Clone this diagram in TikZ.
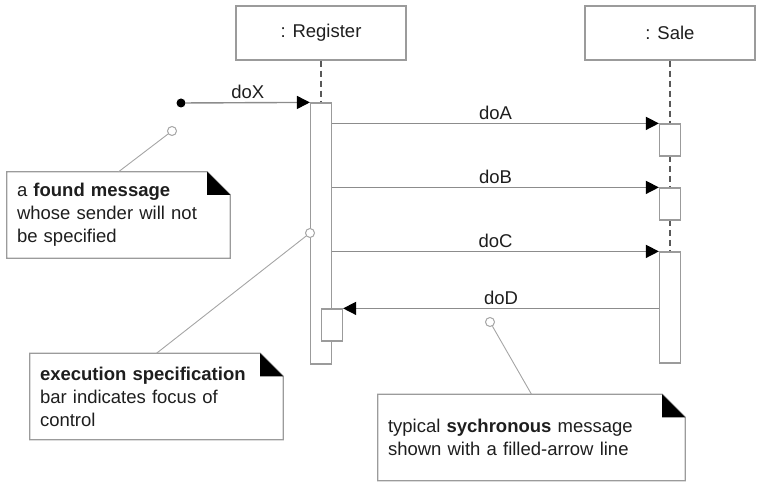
\documentclass[tikz,border=0pt]{standalone}
\usepackage{fontspec}
\setmainfont{Liberation Sans}
\usetikzlibrary{arrows.meta}
\definecolor{linegray}{RGB}{140,140,140}
\definecolor{boxgray}{RGB}{155,155,155}
\definecolor{pingray}{RGB}{165,165,165}
\definecolor{textgray}{RGB}{30,30,30}

\begin{document}
\begin{tikzpicture}[
x=1pt, y=-1pt,
font=\fontsize{18.5}{23}\selectfont, text=textgray,
head/.style={rectangle, draw=boxgray, line width=1.2pt, fill=white, inner sep=0pt, minimum width=170pt, minimum height=54pt},
bar/.style={rectangle, draw=boxgray, line width=1.2pt, fill=white, inner sep=0pt, minimum width=21pt},
note/.style={rectangle, inner xsep=10pt, inner ysep=0pt, align=left, minimum height=86pt},
note_line/.style={draw=boxgray, line width=1.2pt},
pin/.style={circle, draw=pingray, fill=white, line width=1pt, inner sep=0pt, minimum size=9pt},
found_dot/.style={circle, fill=black, inner sep=0pt, minimum size=9pt},
lifeline/.style={draw=black!65, line width=1.2pt, dash pattern=on 6pt off 4pt},
msg_arrow/.style={-{Triangle[length=13pt, width=13pt, color=black]}, draw=linegray, line width=1.4pt},
pin_line/.style={draw=pingray, line width=0.9pt},
msg_text/.style={above, midway, inner sep=3pt}
]
\useasboundingbox (0,0) rectangle (761,494);

% lifeline heads and execution bars
\node[head](head_reg) at (321,33) {: Register};
\node[head](head_sale) at (670,33) {: Sale};

\draw[lifeline] (head_reg.south) -- (321,103);
\draw[lifeline] (head_sale.south) -- (670,124);
\draw[lifeline] (670,156) -- (670,188);
\draw[lifeline] (670,220) -- (670,252);

\node[bar, minimum height=261pt](bar_reg) at (321,233.5) {};
\node[bar, minimum height=32pt](bar_nest) at (332,325) {};
\node[bar, minimum height=32pt](bar_a) at (670,140) {};
\node[bar, minimum height=32pt](bar_b) at (670,204) {};
\node[bar, minimum height=111pt](bar_c) at (670,307.5) {};

\node[found_dot](found) at (181,103) {};

% messages
\draw[msg_arrow](found) -- node[msg_text]{doX} (bar_reg.north west);
\draw[msg_arrow](bar_reg.east |- bar_a.north) -- node[msg_text]{doA} (bar_a.north west);
\draw[msg_arrow](bar_reg.east |- bar_b.north) -- node[msg_text]{doB} (bar_b.north west);
\draw[msg_arrow](bar_reg.east |- bar_c.north) -- node[msg_text]{doC} (bar_c.north west);
\draw[msg_arrow](bar_c.west |- bar_nest.north) -- node[msg_text]{doD} (bar_nest.north east);

% notes with folded corner
\node[note, text width=203pt](note_found) at (118.5,215) {a \textbf{found message}\\whose sender will not\\be specified};
\node[note, text width=233pt](note_exec) at (156.5,396.5) {\textbf{execution specification}\\bar indicates focus of\\control};
\node[note, text width=287pt](note_sync) at (531.5,437.5) {typical \textbf{sychronous} message\\shown with a filled-arrow line};

\foreach \n in {note_found, note_exec, note_sync} {
  \draw[note_line] (\n.north west) -- ([xshift=-23pt]\n.north east) -- ([yshift=-23pt]\n.north east)
    -- (\n.south east) -- (\n.south west) -- cycle;
  \fill[black] ([xshift=-23pt]\n.north east) -- ([xshift=-23pt, yshift=-23pt]\n.north east)
    -- ([yshift=-23pt]\n.north east) -- cycle;
}

% pins on the diagram
\node[pin](pin_found) at (172,131) {};
\node[pin](pin_exec) at (310,233) {};
\node[pin](pin_sync) at (490,322) {};

\draw[pin_line](note_found.north) -- (pin_found);
\draw[pin_line](note_exec.north) -- (pin_exec);
\draw[pin_line](note_sync.north) -- (pin_sync);
\end{tikzpicture}
\end{document}
